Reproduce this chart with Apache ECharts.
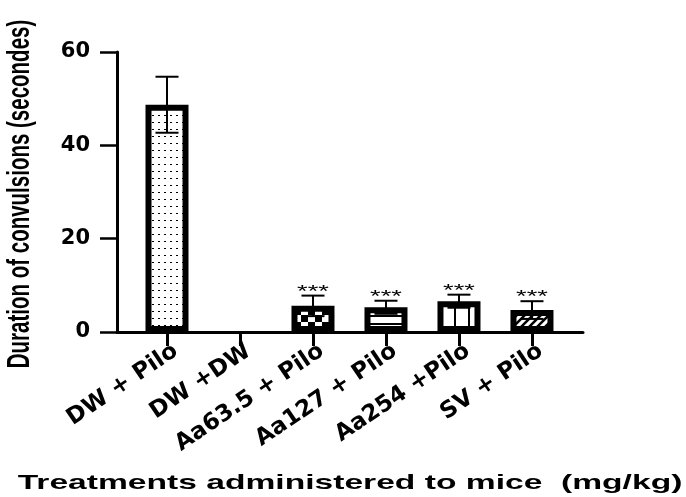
<!DOCTYPE html>
<html>
<head>
<meta charset="utf-8">
<script src="https://cdn.jsdelivr.net/npm/echarts@6/dist/echarts.min.js"></script>
<style>
html,body{margin:0;padding:0;background:#fff;}
#chart{width:686px;height:497px;}
</style>
</head>
<body>
<div id="chart"></div>
<script>
var categories = ['DW + Pilo', 'DW +DW', 'Aa63.5 + Pilo', 'Aa127 + Pilo', 'Aa254 +Pilo', 'SV + Pilo'];
var means = [48.7, 0, 5.6, 5.3, 6.6, 4.7];
var sds = [6.0, 0, 2.2, 1.4, 1.4, 1.9];
var signif = ['', '', '***', '***', '***', '***'];
var yTicks = [0, 20, 40, 60];

function makeTile(w, h, draw) {
  var c = document.createElement('canvas');
  c.width = w; c.height = h;
  var ctx = c.getContext('2d');
  ctx.fillStyle = '#fff';
  ctx.fillRect(0, 0, w, h);
  ctx.fillStyle = '#000';
  ctx.strokeStyle = '#000';
  draw(ctx);
  return { image: c, repeat: 'repeat' };
}
var patterns = [
  makeTile(6, 7, function (ctx) { ctx.fillRect(2, 3, 2, 1); }),
  makeTile(6, 6, function (ctx) {}),
  makeTile(14, 14, function (ctx) { ctx.fillRect(0, 0, 7, 7); ctx.fillRect(7, 7, 7, 7); }),
  makeTile(4, 8, function (ctx) { ctx.fillRect(0, 3, 4, 2); }),
  makeTile(14, 4, function (ctx) { ctx.fillRect(6, 0, 2, 4); }),
  makeTile(8, 8, function (ctx) {
    ctx.lineWidth = 2.5;
    ctx.beginPath();
    ctx.moveTo(-2, 10); ctx.lineTo(10, -2);
    ctx.moveTo(-6, 6); ctx.lineTo(6, -6);
    ctx.moveTo(2, 14); ctx.lineTo(14, 2);
    ctx.stroke();
  })
];

var barData = means.map(function (m, i) {
  return {
    value: [i, m],
    itemStyle: {
      color: patterns[i],
      borderColor: '#000',
      borderWidth: m === 0 ? 0 : 6
    }
  };
});
var errData = means.map(function (m, i) { return [i, m, sds[i]]; });
var tickPos = categories.map(function (c, i) { return i; });
var labelPos = categories.map(function (c, i) { return i + 0.12; });

var chart = echarts.init(document.getElementById('chart'), null, { renderer: 'canvas' });
chart.setOption({
  animation: false,
  backgroundColor: '#fff',
  grid: { left: 117, right: 103, top: 52, bottom: 165 },
  xAxis: {
    type: 'value',
    min: -0.685,
    max: 5.699,
    splitLine: { show: false },
    axisLine: { show: true, onZero: false, lineStyle: { color: '#000', width: 3 } },
    axisTick: { show: true, customValues: tickPos, length: 14, lineStyle: { color: '#000', width: 3 } },
    axisLabel: {
      customValues: labelPos,
      formatter: function (v) { return categories[Math.round(v)]; },
      rotate: 34,
      margin: 17,
      color: '#000',
      fontFamily: 'DejaVu Sans',
      fontWeight: 'bold',
      fontSize: 23
    }
  },
  yAxis: {
    type: 'value',
    min: 0,
    max: 60,
    interval: 20,
    splitLine: { show: false },
    axisLine: { show: true, onZero: false, lineStyle: { color: '#000', width: 3 } },
    axisTick: { show: true, length: 17, lineStyle: { color: '#000', width: 2.5 } },
    axisLabel: {
      margin: 27,
      color: '#000',
      fontFamily: 'DejaVu Sans',
      fontWeight: 'bold',
      fontSize: 21
    }
  },
  graphic: [
    {
      type: 'text',
      x: 350, y: 483,
      scaleX: 1.6,
      style: {
        text: 'Treatments administered to mice  (mg/kg)',
        fill: '#000',
        font: 'bold 21px "Liberation Sans"',
        textAlign: 'center',
        textVerticalAlign: 'middle'
      }
    },
    {
      type: 'text',
      x: 21, y: 194,
      rotation: Math.PI / 2,
      scaleY: 1.5,
      style: {
        text: 'Duration of convulsions (secondes)',
        fill: '#000',
        font: 'bold 20.5px "Liberation Sans"',
        textAlign: 'center',
        textVerticalAlign: 'middle'
      }
    }
  ],
  series: [
    {
      type: 'bar',
      barWidth: 43,
      data: barData,
      z: 2
    },
    {
      type: 'custom',
      z: 5,
      data: errData,
      renderItem: function (params, api) {
        var x = api.value(0), m = api.value(1), s = api.value(2);
        if (!s) return null;
        var top = api.coord([x, m + s]);
        var bot = api.coord([x, m - s]);
        var hw = 11.5;
        var children = [
          { type: 'line', shape: { x1: top[0], y1: top[1], x2: bot[0], y2: bot[1] }, style: { stroke: '#000', lineWidth: 2 } },
          { type: 'line', shape: { x1: top[0] - hw, y1: top[1], x2: top[0] + hw, y2: top[1] }, style: { stroke: '#000', lineWidth: 2 } },
          { type: 'line', shape: { x1: bot[0] - hw, y1: bot[1], x2: bot[0] + hw, y2: bot[1] }, style: { stroke: '#000', lineWidth: 2 } }
        ];
        var lab = signif[params.dataIndex];
        if (lab) {
          children.push({
            type: 'text',
            x: top[0], y: top[1] + 5,
            scaleX: 1.6,
            style: {
              text: lab,
              fill: '#000',
              font: '17px "Liberation Sans"',
              textAlign: 'center',
              textVerticalAlign: 'bottom'
            }
          });
        }
        return { type: 'group', children: children };
      }
    }
  ]
});
</script>
</body>
</html>
